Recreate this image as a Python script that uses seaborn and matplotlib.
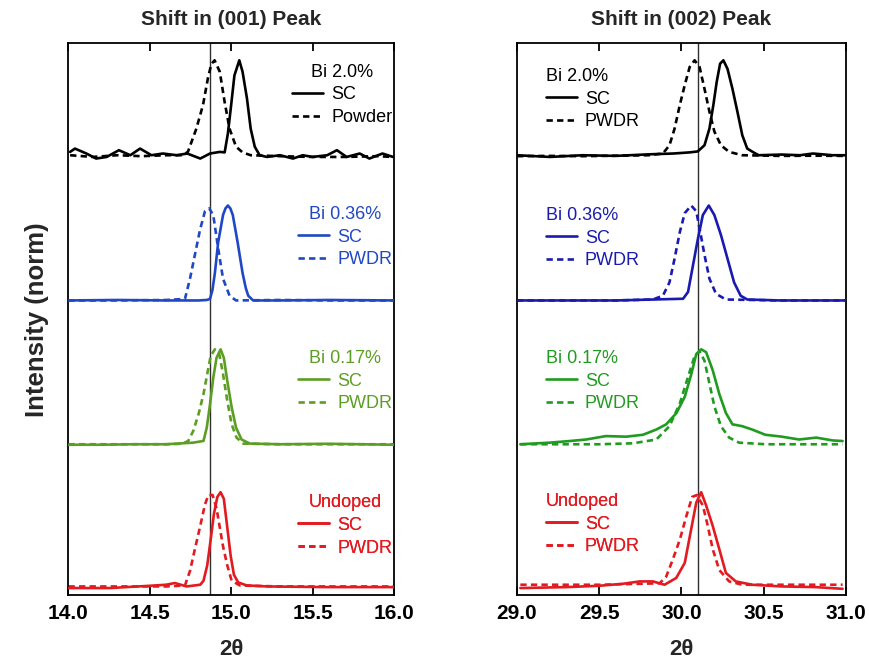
import matplotlib
matplotlib.use("Agg")
import matplotlib.pyplot as plt
from matplotlib.lines import Line2D
import pandas as pd
import seaborn as sns

# ---------------- (001) peak: 2θ (deg) and normalised intensity ----------------
x001_bi20_sc = [14.01, 14.04, 14.11, 14.17, 14.235, 14.31, 14.38, 14.44, 14.51, 14.58,
                14.665, 14.73, 14.81, 14.87, 14.93, 14.96, 14.98, 15.00, 15.02, 15.05,
                15.07, 15.097, 15.12, 15.145, 15.175, 15.22, 15.30, 15.38, 15.44, 15.50,
                15.59, 15.65, 15.71, 15.79, 15.85, 15.93, 15.995]
i001_bi20_sc = [0.035, 0.07, 0.018, -0.035, -0.018, 0.053, 0.0, 0.07, 0.0, 0.018,
                0.0, 0.018, -0.035, 0.018, 0.035, 0.03, 0.23, 0.53, 0.84, 1.0,
                0.88, 0.6, 0.28, 0.09, 0.0, -0.018, 0.0, -0.035, 0.0, -0.018,
                0.0, 0.053, -0.018, 0.018, -0.035, 0.018, -0.018]
x001_bi20_pw = [14.01, 14.15, 14.3, 14.45, 14.6, 14.7, 14.734, 14.786, 14.827, 14.857,
                14.878, 14.898, 14.93, 14.96, 14.99, 15.03, 15.07, 15.12, 15.3, 15.5,
                15.7, 15.9, 15.995]
i001_bi20_pw = [0.0, -0.018, 0.0, -0.01, 0.0, 0.0, 0.035, 0.28, 0.53, 0.81,
                0.96, 1.0, 0.88, 0.56, 0.28, 0.09, 0.03, 0.0, -0.01, -0.018,
                -0.018, -0.01, -0.018]

x001_bi036_sc = [14.0, 14.3, 14.6, 14.8, 14.85, 14.87, 14.885, 14.90, 14.92, 14.95, 14.965,
                 14.98, 14.995, 15.01, 15.04, 15.07, 15.09, 15.105, 15.135, 15.3, 15.6, 16.0]
i001_bi036_sc = [0.0, 0.005, 0.0, 0.0, 0.005, 0.016, 0.11, 0.29, 0.61, 0.90, 0.97,
                 1.0, 0.97, 0.90, 0.61, 0.29, 0.13, 0.05, 0.0, 0.0, 0.005, 0.0]
x001_bi036_pw = [14.0, 14.3, 14.6, 14.716, 14.747, 14.777, 14.808, 14.839, 14.865, 14.89,
                 14.92, 14.95, 14.99, 15.03, 15.3, 15.6, 16.0]
i001_bi036_pw = [0.0, 0.0, 0.005, 0.016, 0.23, 0.48, 0.74, 0.94, 0.97, 0.90,
                 0.55, 0.23, 0.05, 0.0, 0.005, 0.0, 0.0]

x001_bi017_sc = [14.0, 14.2, 14.4, 14.6, 14.767, 14.83, 14.85, 14.87, 14.89, 14.91,
                 14.935, 14.955, 14.976, 15.003, 15.03, 15.064, 15.115, 15.3, 15.6, 16.0]
i001_bi017_sc = [-0.005, -0.005, 0.0, 0.0, 0.017, 0.035, 0.175, 0.42, 0.70, 0.91,
                 1.0, 0.91, 0.67, 0.39, 0.175, 0.05, 0.007, 0.0, 0.005, -0.005]
x001_bi017_pw = [14.0, 14.3, 14.6, 14.7, 14.736, 14.767, 14.80, 14.83, 14.853, 14.874,
                 14.90, 14.927, 14.95, 14.976, 15.003, 15.033, 15.074, 15.3, 15.6, 16.0]
i001_bi017_pw = [0.0, 0.0, 0.0, 0.005, 0.035, 0.14, 0.32, 0.53, 0.74, 0.93,
                 1.0, 0.95, 0.74, 0.46, 0.21, 0.07, 0.007, 0.0, 0.0, 0.0]

x001_undoped_sc = [14.0, 14.255, 14.50, 14.60, 14.654, 14.726, 14.81, 14.83, 14.853, 14.874,
                   14.894, 14.915, 14.935, 14.955, 14.976, 14.997, 15.017, 15.043, 15.095,
                   15.22, 15.59, 16.0]
i001_undoped_sc = [-0.01, -0.01, 0.014, 0.025, 0.043, 0.007, 0.025, 0.067, 0.23, 0.50,
                   0.77, 0.95, 1.0, 0.93, 0.63, 0.33, 0.13, 0.05, 0.018,
                   0.007, 0.0, 0.0]
x001_undoped_pw = [14.0, 14.3, 14.6, 14.716, 14.747, 14.777, 14.808, 14.839, 14.86, 14.886,
                   14.91, 14.93, 14.95, 14.976, 15.003, 15.054, 15.3, 15.6, 16.0]
i001_undoped_pw = [0.007, 0.007, 0.007, 0.017, 0.17, 0.40, 0.63, 0.87, 0.97, 0.97,
                   0.83, 0.63, 0.43, 0.23, 0.067, 0.017, 0.007, 0.007, 0.007]

# ---------------- (002) peak ----------------
x002_bi20_sc = [29.0, 29.2, 29.4, 29.6, 29.81, 29.95, 30.05, 30.099, 30.14, 30.17,
                30.194, 30.214, 30.235, 30.255, 30.28, 30.31, 30.34, 30.37, 30.40, 30.44,
                30.47, 30.61, 30.72, 30.80, 30.92, 31.0]
i002_bi20_sc = [0.0, -0.018, 0.0, -0.007, 0.01, 0.018, 0.03, 0.04, 0.105, 0.28,
                0.53, 0.77, 0.965, 1.0, 0.91, 0.70, 0.46, 0.21, 0.07, 0.028,
                0.0, 0.007, 0.0, 0.018, 0.0, 0.0]
x002_bi20_pw = [29.0, 29.2, 29.4, 29.6, 29.8, 29.887, 29.927, 29.958, 29.99, 30.02,
                30.05, 30.08, 30.11, 30.14, 30.17, 30.20, 30.24, 30.29, 30.37, 30.6,
                30.8, 31.0]
i002_bi20_pw = [-0.01, -0.007, -0.01, -0.005, 0.0, 0.018, 0.105, 0.28, 0.53, 0.74,
                0.93, 1.0, 0.93, 0.70, 0.46, 0.25, 0.105, 0.035, 0.0, -0.007,
                -0.005, -0.007]

x002_bi036_sc = [29.0, 29.3, 29.6, 29.83, 30.01, 30.04, 30.07, 30.10, 30.13, 30.166,
                 30.20, 30.24, 30.28, 30.32, 30.36, 30.40, 30.6, 31.0]
i002_bi036_sc = [0.0, 0.0, 0.0, 0.01, 0.018, 0.09, 0.37, 0.65, 0.90, 1.0,
                 0.90, 0.69, 0.44, 0.19, 0.05, 0.01, 0.0, 0.0]
x002_bi036_pw = [29.0, 29.3, 29.6, 29.826, 29.887, 29.927, 29.958, 29.99, 30.02, 30.059,
                 30.09, 30.11, 30.14, 30.17, 30.21, 30.27, 30.6, 31.0]
i002_bi036_pw = [0.0, 0.0, 0.0, 0.01, 0.05, 0.19, 0.44, 0.72, 0.92, 1.0,
                 0.94, 0.76, 0.48, 0.23, 0.07, 0.01, 0.0, 0.0]

x002_bi017_sc = [29.02, 29.2, 29.32, 29.42, 29.54, 29.665, 29.766, 29.847, 29.907, 29.97,
                 30.02, 30.06, 30.09, 30.12, 30.15, 30.19, 30.23, 30.27, 30.31, 30.37,
                 30.43, 30.51, 30.61, 30.715, 30.82, 30.92, 30.98]
i002_bi017_sc = [0.0, 0.017, 0.034, 0.05, 0.086, 0.08, 0.10, 0.155, 0.21, 0.33,
                 0.50, 0.74, 0.95, 1.0, 0.97, 0.78, 0.53, 0.33, 0.21, 0.19,
                 0.155, 0.10, 0.08, 0.05, 0.07, 0.04, 0.034]
x002_bi017_pw = [29.02, 29.5, 29.705, 29.847, 29.927, 29.99, 30.04, 30.08, 30.11, 30.14,
                 30.17, 30.20, 30.24, 30.29, 30.35, 30.51, 30.98]
i002_bi017_pw = [0.0, 0.0, 0.01, 0.05, 0.19, 0.43, 0.71, 0.93, 0.98, 0.88,
                 0.64, 0.40, 0.19, 0.07, 0.017, 0.0, 0.0]

x002_undoped_sc = [29.02, 29.30, 29.50, 29.644, 29.745, 29.826, 29.897, 29.968, 30.02, 30.059,
                   30.09, 30.12, 30.15, 30.19, 30.23, 30.27, 30.33, 30.43, 30.61, 30.815, 30.98]
i002_undoped_sc = [-0.01, 0.0, 0.014, 0.035, 0.06, 0.06, 0.025, 0.096, 0.255, 0.61,
                   0.89, 1.0, 0.86, 0.645, 0.40, 0.15, 0.06, 0.025, 0.007, 0.0, -0.018]
x002_undoped_pw = [29.02, 29.5, 29.867, 29.907, 29.947, 29.99, 30.03, 30.065, 30.093, 30.13,
                   30.16, 30.19, 30.23, 30.29, 30.37, 30.98]
i002_undoped_pw = [0.025, 0.025, 0.04, 0.11, 0.29, 0.50, 0.75, 0.95, 0.97, 0.86,
                   0.645, 0.40, 0.18, 0.06, 0.025, 0.025]

samples = ["Bi 2.0%", "Bi 0.36%", "Bi 0.17%", "Undoped"]
ref_001 = 14.87   # reference position of the (001) reflection
ref_002 = 30.10   # reference position of the (002) reflection
xticks_001 = [14.0, 14.5, 15.0, 15.5, 16.0]
xticks_002 = [29.0, 29.5, 30.0, 30.5, 31.0]

# ---------------- styling ----------------
sns.set_theme(style="ticks")
plt.rcParams["font.family"] = ["Liberation Sans", "DejaVu Sans"]
plt.rcParams["axes.linewidth"] = 1.3

stack_offset = [4.55, 3.02, 1.505, 0.0]
colors_001 = ["#000000", "#2148c4", "#5c9e23", "#e31a1f"]
colors_002 = ["#000000", "#1a1ab0", "#1f9c1f", "#e31a1f"]
dash = (0, (2.4, 1.6))
lw = 1.9

fig = plt.figure(figsize=(8.7, 6.65), dpi=100)
axL = fig.add_axes([0.0787, 0.105, 0.374, 0.830])
axR = fig.add_axes([0.5943, 0.105, 0.378, 0.830])

curves_001 = [(x001_bi20_sc, i001_bi20_sc, x001_bi20_pw, i001_bi20_pw),
              (x001_bi036_sc, i001_bi036_sc, x001_bi036_pw, i001_bi036_pw),
              (x001_bi017_sc, i001_bi017_sc, x001_bi017_pw, i001_bi017_pw),
              (x001_undoped_sc, i001_undoped_sc, x001_undoped_pw, i001_undoped_pw)]
curves_002 = [(x002_bi20_sc, i002_bi20_sc, x002_bi20_pw, i002_bi20_pw),
              (x002_bi036_sc, i002_bi036_sc, x002_bi036_pw, i002_bi036_pw),
              (x002_bi017_sc, i002_bi017_sc, x002_bi017_pw, i002_bi017_pw),
              (x002_undoped_sc, i002_undoped_sc, x002_undoped_pw, i002_undoped_pw)]

# legend anchors (axes fraction) for each stacked trace
leg_top_001 = [0.963, 0.705, 0.444, 0.183]
leg_top_002 = [0.955, 0.703, 0.444, 0.185]


def draw_panel(ax, curves, colors, ref, xlim, xticks, title, powder_names,
               leg_tops, leg_loc, leg_x, title_align):
    ax.axvline(ref, color="#303030", lw=1.0, zorder=1)
    for k, (xs, ys, xp, yp) in enumerate(curves):
        off = stack_offset[k]
        df_sc = pd.DataFrame({"two_theta": xs, "intensity": [v + off for v in ys]})
        df_pw = pd.DataFrame({"two_theta": xp, "intensity": [v + off for v in yp]})
        sns.lineplot(data=df_pw, x="two_theta", y="intensity", ax=ax, color=colors[k],
                     lw=lw, linestyle=dash, zorder=2)
        sns.lineplot(data=df_sc, x="two_theta", y="intensity", ax=ax, color=colors[k],
                     lw=lw, zorder=3)
        handles = [Line2D([], [], color=colors[k], lw=lw),
                   Line2D([], [], color=colors[k], lw=lw, linestyle=dash)]
        leg = ax.legend(handles, ["SC", powder_names[k]], title=samples[k],
                        loc=leg_loc, bbox_to_anchor=(leg_x, leg_tops[k]),
                        frameon=False, fontsize=13, title_fontsize=13,
                        handlelength=1.7, handletextpad=0.45, labelspacing=0.32,
                        borderpad=0.0, borderaxespad=0.0, alignment=title_align)
        leg.get_title().set_color(colors[k])
        leg._legend_box.sep = 4
        for t in leg.get_texts():
            t.set_color(colors[k])
        ax.add_artist(leg)
    ax.set_xlim(*xlim)
    ax.set_ylim(-0.085, 5.73)
    ax.set_xticks(xticks)
    ax.set_xticklabels([f"{t:.1f}" for t in xticks], fontweight="bold", fontsize=15)
    ax.set_yticks([])
    ax.tick_params(axis="x", direction="in", length=6, width=1.3, top=True,
                   bottom=True, pad=6, colors="black")
    for s in ax.spines.values():
        s.set_visible(True)
        s.set_color("black")
        s.set_linewidth(1.3)
    ax.set_xlabel("2θ", fontweight="bold", fontsize=16, labelpad=12)
    ax.set_ylabel("")
    ax.set_title(title, fontweight="bold", fontsize=15, pad=13)


draw_panel(axL, curves_001, colors_001, ref_001, (14.0, 16.0), xticks_001,
           "Shift in (001) Peak", ["Powder", "PWDR", "PWDR", "PWDR"],
           leg_top_001, "upper right", 0.995, "center")
draw_panel(axR, curves_002, colors_002, ref_002, (29.0, 31.0), xticks_002,
           "Shift in (002) Peak", ["PWDR", "PWDR", "PWDR", "PWDR"],
           leg_top_002, "upper left", 0.088, "left")

axL.set_ylabel("Intensity (norm)", fontweight="bold", fontsize=18.5, labelpad=14)

fig.savefig("out.png", dpi=100, facecolor="white")
